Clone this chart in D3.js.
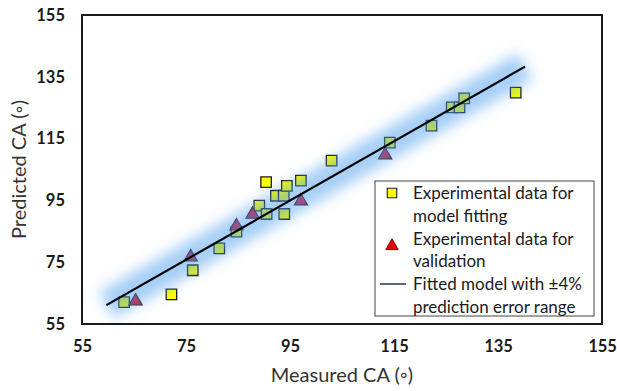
<!DOCTYPE html>
<html>
<head>
<meta charset="utf-8">
<script src="https://cdn.jsdelivr.net/npm/d3@7"></script>
<style>
  body { margin: 0; background: #fff; }
  svg text { font-family: Lato, "Open Sans", sans-serif; }
</style>
</head>
<body>
<div id="chart"></div>
<script>
// data
const fitMeasured = [63.1, 72.2, 76.3, 81.4, 84.7, 89.1, 90.4, 90.5, 92.3, 93.8, 93.9, 94.4, 97.1, 103.0, 114.2, 122.2, 126.1, 127.6, 128.5, 138.4];
const fitPredicted = [62.1, 64.6, 72.4, 79.5, 84.9, 93.3, 100.9, 90.6, 96.5, 96.5, 90.6, 99.7, 101.4, 107.9, 113.7, 119.2, 125.1, 125.1, 128.0, 129.9];
const valMeasured = [65.3, 75.9, 84.7, 87.8, 97.1, 113.3];
const valPredicted = [62.7, 77.0, 87.0, 90.8, 95.1, 110.0];
const modelSlope = 0.959;
const modelIntercept = 3.85;
const modelRange = [59.7, 140.2];
const ticks = [55, 75, 95, 115, 135, 155];
const legendLabels = [
  ['Experimental data for', 'model fitting'],
  ['Experimental data for', 'validation'],
  ['Fitted model with \u00b14%', 'prediction error range']
];

const W = 617, H = 391;
const margin = {top: 15, right: 15, bottom: 67, left: 82};
const width = W - margin.left - margin.right;
const height = H - margin.top - margin.bottom;

const svg = d3.select('#chart').append('svg')
  .attr('width', W)
  .attr('height', H);

const defs = svg.append('defs');
defs.append('filter')
  .attr('id', 'glow')
  .attr('x', '-30%').attr('y', '-30%')
  .attr('width', '160%').attr('height', '160%')
  .append('feGaussianBlur')
  .attr('stdDeviation', 7);
defs.append('filter')
  .attr('id', 'glow-small')
  .attr('x', '-50%').attr('y', '-200%')
  .attr('width', '200%').attr('height', '500%')
  .append('feGaussianBlur')
  .attr('stdDeviation', 2.5);

const g = svg.append('g')
  .attr('transform', 'translate(' + margin.left + ',' + margin.top + ')');

const x = d3.scaleLinear().domain([55, 155]).range([0, width]);
const y = d3.scaleLinear().domain([55, 155]).range([height, 0]);

// axes (labels only, frame drawn as rect)
const xAxis = g.append('g')
  .attr('transform', 'translate(0,' + height + ')')
  .call(d3.axisBottom(x).tickValues(ticks).tickSize(0).tickPadding(16));
const yAxis = g.append('g')
  .call(d3.axisLeft(y).tickValues(ticks).tickSize(0).tickPadding(17));
[xAxis, yAxis].forEach(a => {
  a.select('.domain').remove();
  a.selectAll('text')
    .style('font-size', '16.5px')
    .style('font-weight', 'bold')
    .attr('fill', '#1a1a1a');
});

const square = d3.symbol().type(d3.symbolSquare).size(110);
const triangle = d3.symbol().type(d3.symbolTriangle).size(75);

// fitting data
g.selectAll('.fit')
  .data(fitMeasured.map((m, i) => [m, fitPredicted[i]]))
  .enter().append('path')
  .attr('class', 'fit')
  .attr('d', square)
  .attr('transform', d => 'translate(' + x(d[0]) + ',' + y(d[1]) + ')')
  .attr('fill', '#ffff00')
  .attr('stroke', '#1a1a1a')
  .attr('stroke-width', 1.3);

// validation data
g.selectAll('.val')
  .data(valMeasured.map((m, i) => [m, valPredicted[i]]))
  .enter().append('path')
  .attr('class', 'val')
  .attr('d', triangle)
  .attr('transform', d => 'translate(' + x(d[0]) + ',' + (y(d[1]) + 1) + ')')
  .attr('fill', '#e0102a')
  .attr('stroke', '#2a1a1a')
  .attr('stroke-width', 1.2);

// fitted model: glow band on top, then line
const model = modelRange.map(m => [m, modelSlope * m + modelIntercept]);
const line = d3.line().x(d => x(d[0])).y(d => y(d[1]));

g.append('path')
  .attr('d', line(model))
  .attr('stroke', '#4a9ef0')
  .attr('stroke-width', 30)
  .attr('stroke-opacity', 0.5)
  .attr('fill', 'none')
  .attr('filter', 'url(#glow)');

g.append('path')
  .attr('d', line(model))
  .attr('stroke', '#000')
  .attr('stroke-width', 2.2)
  .attr('fill', 'none');

// frame
g.append('rect')
  .attr('width', width)
  .attr('height', height)
  .attr('fill', 'none')
  .attr('stroke', '#1a1a1a')
  .attr('stroke-width', 2);

// legend
const lg = g.append('g')
  .attr('transform', 'translate(' + (375 - margin.left) + ',' + (181 - margin.top) + ')');
lg.append('rect')
  .attr('width', 219)
  .attr('height', 135)
  .attr('fill', '#fff')
  .attr('stroke', '#444')
  .attr('stroke-width', 1);

legendLabels.forEach((lines, i) => {
  const row = lg.append('g').attr('transform', 'translate(0,' + (i * 45.5) + ')');
  lines.forEach((t, j) => {
    row.append('text')
      .attr('x', 38)
      .attr('y', 18 + j * 22.5)
      .style('font-size', '17px')
      .attr('fill', '#1a1a1a')
      .text(t);
  });
});
lg.append('path')
  .attr('d', d3.symbol().type(d3.symbolSquare).size(90))
  .attr('transform', 'translate(17,12)')
  .attr('fill', '#ffff00')
  .attr('stroke', '#1a1a1a')
  .attr('stroke-width', 1.1);
lg.append('path')
  .attr('d', d3.symbol().type(d3.symbolTriangle).size(70))
  .attr('transform', 'translate(17,65)')
  .attr('fill', '#e00000')
  .attr('stroke', '#600')
  .attr('stroke-width', 0.8);
lg.append('line')
  .attr('x1', 6).attr('x2', 30)
  .attr('y1', 103).attr('y2', 103)
  .attr('stroke', '#4a9ef0')
  .attr('stroke-width', 8)
  .attr('stroke-opacity', 0.6)
  .attr('filter', 'url(#glow-small)');
lg.append('line')
  .attr('x1', 5).attr('x2', 31)
  .attr('y1', 103).attr('y2', 103)
  .attr('stroke', '#1a3a4a')
  .attr('stroke-width', 1.5);

// axis titles
svg.append('text')
  .attr('x', margin.left + width / 2)
  .attr('y', 382)
  .attr('text-anchor', 'middle')
  .style('font-size', '20px')
  .attr('fill', '#333')
  .text('Measured CA (\u25e6)');
svg.append('text')
  .attr('transform', 'translate(26,' + (margin.top + height / 2) + ') rotate(-90)')
  .attr('text-anchor', 'middle')
  .style('font-size', '20px')
  .attr('fill', '#333')
  .text('Predicted CA (\u25e6)');
</script>
</body>
</html>
